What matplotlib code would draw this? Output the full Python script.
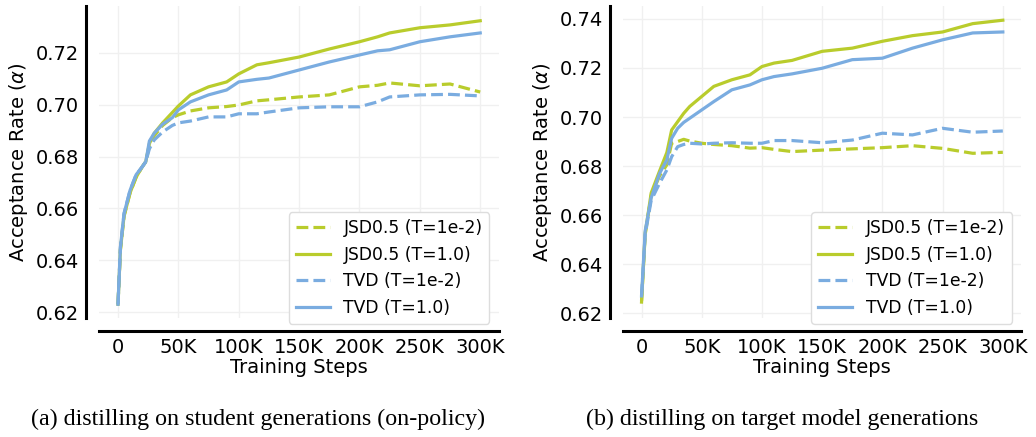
import numpy as np
import matplotlib
matplotlib.use('Agg')
import matplotlib.pyplot as plt

# training steps (in thousands) sampled from the curves
steps_a = [0, 2, 5, 10, 15, 20, 23, 26, 30, 37, 45, 50, 60, 75, 90, 100, 115, 125,
           150, 175, 200, 215, 225, 250, 275, 300]
steps_b = [0, 3, 8, 15, 21, 25, 30, 35, 40, 50, 60, 75, 90, 100, 110, 125,
           150, 175, 200, 225, 250, 275, 300]

# (a) on-policy
jsd_lowT_a = [0.623, 0.644, 0.657, 0.666, 0.672, 0.676, 0.678, 0.684, 0.688, 0.692, 0.695, 0.6961, 0.6976,
              0.6988, 0.6993, 0.6999, 0.7015, 0.7019, 0.703, 0.7038, 0.7069, 0.7075, 0.7084, 0.7073, 0.708, 0.7049]
jsd_T1_a = [0.623, 0.644, 0.657, 0.666, 0.672, 0.676, 0.678, 0.685, 0.689, 0.693, 0.697, 0.6995, 0.7038,
            0.7069, 0.7088, 0.7119, 0.7154, 0.7162, 0.7184, 0.7215, 0.7243, 0.7262, 0.7277, 0.7297, 0.7308, 0.7324]
tvd_lowT_a = [0.623, 0.645, 0.658, 0.667, 0.673, 0.676, 0.678, 0.683, 0.6864, 0.6895, 0.692, 0.693, 0.6937,
              0.6953, 0.6953, 0.6965, 0.6965, 0.6972, 0.6988, 0.6992, 0.6992, 0.7011, 0.703, 0.7038, 0.704, 0.7034]
tvd_T1_a = [0.623, 0.645, 0.658, 0.667, 0.673, 0.676, 0.678, 0.686, 0.689, 0.6925, 0.695, 0.698, 0.7011,
            0.7038, 0.7057, 0.7088, 0.7098, 0.7103, 0.7134, 0.7165, 0.7192, 0.7208, 0.7212, 0.7243, 0.7262, 0.7277]

# (b) target model generations
jsd_lowT_b = [0.625, 0.652, 0.668, 0.676, 0.6805, 0.6893, 0.69, 0.6909, 0.6902, 0.6893, 0.6888, 0.6883,
              0.6873, 0.6875, 0.6868, 0.6859, 0.6865, 0.687, 0.6875, 0.6883, 0.6872, 0.6852, 0.6856]
jsd_T1_b = [0.6245, 0.6525, 0.669, 0.678, 0.6855, 0.6947, 0.6981, 0.7015, 0.7043, 0.7084, 0.7125, 0.7152,
            0.7172, 0.7206, 0.722, 0.7231, 0.7268, 0.7281, 0.7309, 0.7332, 0.7347, 0.7381, 0.7395]
tvd_lowT_b = [0.627, 0.652, 0.666, 0.673, 0.6784, 0.6838, 0.6879, 0.6888, 0.6893, 0.689, 0.6893, 0.6895,
              0.6893, 0.6893, 0.6904, 0.6904, 0.6895, 0.6906, 0.6934, 0.6927, 0.6954, 0.6938, 0.6943]
tvd_T1_b = [0.627, 0.6535, 0.667, 0.677, 0.6825, 0.6913, 0.6954, 0.6978, 0.6995, 0.7029, 0.7063, 0.7111,
            0.7131, 0.7152, 0.7165, 0.7176, 0.7199, 0.7234, 0.724, 0.7281, 0.7315, 0.7343, 0.7347]

labels = ['JSD0.5 (T=1e-2)', 'JSD0.5 (T=1.0)', 'TVD (T=1e-2)', 'TVD (T=1.0)']
xticks = [0, 50, 100, 150, 200, 250, 300]
xticklabels = ['0', '50K', '100K', '150K', '200K', '250K', '300K']
captions = ['(a) distilling on student generations (on-policy)',
            '(b) distilling on target model generations']

green = '#b9cc2c'
blue = '#7aace0'

fig = plt.figure(figsize=(10.36, 4.37), dpi=100)
ax1 = fig.add_axes([0.0956, 0.2723, 0.386, 0.714])
ax2 = fig.add_axes([0.601, 0.2723, 0.385, 0.714])

panels = [
    (ax1, steps_a, [jsd_lowT_a, jsd_T1_a, tvd_lowT_a, tvd_T1_a], (0.6177, 0.7381), [0.62, 0.64, 0.66, 0.68, 0.70, 0.72]),
    (ax2, steps_b, [jsd_lowT_b, jsd_T1_b, tvd_lowT_b, tvd_T1_b], (0.618, 0.7453), [0.62, 0.64, 0.66, 0.68, 0.70, 0.72, 0.74]),
]

for ax, steps, series, ylim, yticks in panels:
    styles = [(green, '--'), (green, '-'), (blue, '--'), (blue, '-')]
    for vals, (c, ls), lab in zip(series, styles, labels):
        ax.plot(steps, vals, color=c, linestyle=ls, linewidth=2.3, label=lab)
    ax.set_xlim(-15.7, 315.5)
    ax.set_ylim(*ylim)
    ax.set_xticks(xticks)
    ax.set_xticklabels(xticklabels)
    ax.set_yticks(yticks)
    ax.set_yticklabels(['%.2f' % t for t in yticks])
    ax.tick_params(length=0, labelsize=14, pad=5)
    ax.grid(True, color='#f0f0f0', linewidth=1)
    ax.set_axisbelow(True)
    for side in ['top', 'right']:
        ax.spines[side].set_visible(False)
    ax.spines['left'].set_position(('outward', 9.4))
    ax.spines['bottom'].set_position(('outward', 9.4))
    ax.spines['left'].set_linewidth(2.2)
    ax.spines['bottom'].set_linewidth(2.2)
    ax.set_xlabel('Training Steps', fontsize=14, labelpad=1)
    ax.set_ylabel(r'Acceptance Rate ($\alpha$)', fontsize=14, labelpad=4)
    leg = ax.legend(loc='lower right', bbox_to_anchor=(0.976, -0.018), borderaxespad=0,
                    fontsize=12.3, frameon=True, fancybox=True, framealpha=1)
    leg.get_frame().set_edgecolor('#dddddd')

fig.text(0.249, 0.04, captions[0], ha='center', va='center', fontsize=17.3, family='Liberation Serif')
fig.text(0.755, 0.04, captions[1], ha='center', va='center', fontsize=17.3, family='Liberation Serif')

plt.savefig('out.png', dpi=100)
